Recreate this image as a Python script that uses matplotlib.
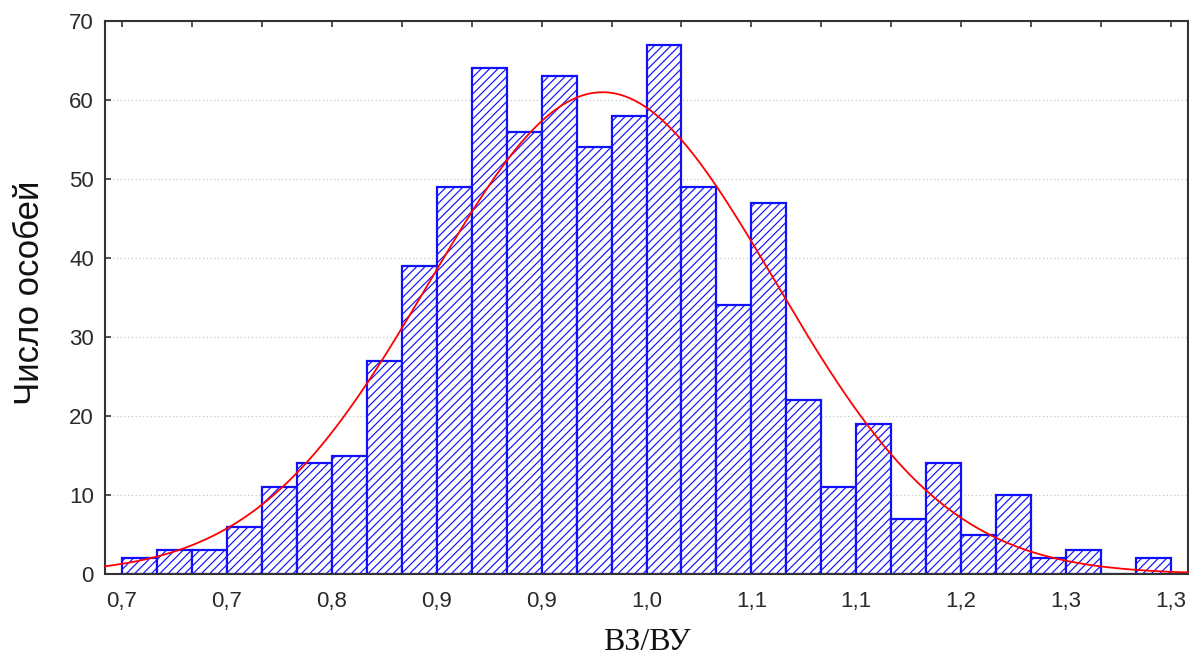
import numpy as np
import matplotlib
matplotlib.use("Agg")
import matplotlib.pyplot as plt
from matplotlib.ticker import FixedLocator, FuncFormatter

# ---- data ----
counts = [2, 3, 3, 6, 11, 14, 15, 27, 39, 49, 64, 56, 63, 54, 58,
          67, 49, 34, 47, 22, 11, 19, 7, 14, 5, 10, 2, 3, 0, 2]
bin_start = 0.67
bin_width = 0.022
fit_mean = 0.9723
fit_std = 0.1088
y_ticks = [0, 10, 20, 30, 40, 50, 60, 70]
x_label = "ВЗ/ВУ"
y_label = "Число особей"

plt.rcParams['hatch.linewidth'] = 0.85
plt.rcParams['font.family'] = ['Liberation Sans', 'DejaVu Sans']

fig = plt.figure(figsize=(11.89, 6.58), dpi=100)
ax = fig.add_axes([105/1189, 1-574/658, 1083/1189, 553/658])

n = len(counts)
edges = bin_start + bin_width*np.arange(n)
ax.bar(edges, counts, width=bin_width, align='edge', facecolor='white',
       edgecolor='#1010ff', hatch='////', linewidth=1.6, zorder=2)

xmin = bin_start - bin_width*17/35
xmax = bin_start + n*bin_width + bin_width*17/35
xs = np.linspace(xmin, xmax, 600)
N = sum(counts)
ys = N*bin_width/(fit_std*np.sqrt(2*np.pi))*np.exp(-0.5*((xs-fit_mean)/fit_std)**2)
ax.plot(xs, ys, color='#ff0000', lw=1.3, zorder=3, clip_on=False)

ax.set_xlim(xmin, xmax)
ax.set_ylim(0, 70)
ax.set_yticks(y_ticks)
ax.yaxis.grid(True, linestyle=(0, (1, 2)), color='#c8c8c8', lw=0.9)
ax.set_axisbelow(True)

major = [bin_start + 3*i*bin_width for i in range(n//3 + 1)]
minor = [bin_start + 2*i*bin_width for i in range(n//2 + 1)]
ax.xaxis.set_major_locator(FixedLocator(major))
ax.xaxis.set_minor_locator(FixedLocator(minor))
ax.xaxis.remove_overlapping_locs = False
ax.xaxis.set_major_formatter(FuncFormatter(lambda v, p: f"{v:.1f}".replace('.', ',')))
ax.tick_params(axis='x', which='major', length=0, pad=12, labelsize=16, labelcolor='#2a2a2a')
ax.tick_params(axis='x', which='minor', direction='in', length=4, width=1.2,
               top=True, bottom=True, color='#333333')
ax.tick_params(axis='y', direction='in', length=4, width=1.2, pad=8,
               labelsize=16, labelcolor='#2a2a2a', color='#333333')

for s in ax.spines.values():
    s.set_linewidth(1.5)
    s.set_color('#333333')
ax.spines['bottom'].set_zorder(4)

ax.set_xlabel(x_label, family='Liberation Serif', fontsize=23, color='#111111', va='center')
ax.xaxis.set_label_coords(0.5, (574-643)/553)
ax.set_ylabel(y_label, fontsize=25, color='#111111', va='center')
ax.yaxis.set_label_coords((30-105)/1083, (574-293)/553)

fig.savefig('out.png', dpi=100)
